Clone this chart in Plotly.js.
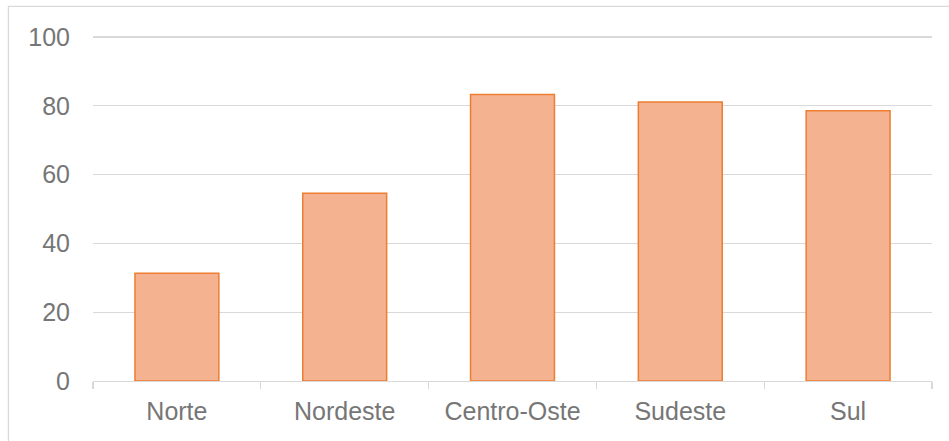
<!DOCTYPE html>
<html>
<head>
<meta charset="utf-8">
<script src="https://cdn.plot.ly/plotly-3.0.1.min.js"></script>
<style>
  html, body { margin: 0; padding: 0; background: #ffffff; }
  #chart { width: 949px; height: 441px; }
</style>
</head>
<body>
<div id="chart"></div>
<script>
const categories = ["Norte", "Nordeste", "Centro-Oste", "Sudeste", "Sul"];
const values = [31.3, 54.6, 83.3, 81.1, 78.6];
const yTickValues = [0, 20, 40, 60, 80, 100];

const fontFamily = '"Liberation Sans", Arial, sans-serif';
const textColor = '#767676';
const gridColor = '#D9D9D9';

const trace = {
  type: 'bar',
  x: categories,
  y: values,
  marker: {
    color: '#F5B291',
    line: { color: '#ED7D31', width: 1.5 }
  },
  hoverinfo: 'x+y'
};

const layout = {
  width: 949,
  height: 441,
  margin: { l: 93, r: 17, t: 36, b: 60 },
  paper_bgcolor: '#ffffff',
  plot_bgcolor: '#ffffff',
  showlegend: false,
  bargap: 0.5,
  font: { family: fontFamily, size: 25, color: textColor },
  xaxis: {
    type: 'category',
    showline: true,
    linecolor: gridColor,
    linewidth: 1.3,
    ticks: 'outside',
    tickson: 'boundaries',
    ticklen: 7,
    tickcolor: gridColor,
    tickwidth: 1.3,
    showgrid: false,
    ticklabelstandoff: 8,
    tickfont: { family: fontFamily, size: 25, color: textColor }
  },
  yaxis: {
    range: [0, 100.3],
    tickvals: yTickValues,
    ticktext: yTickValues.map(String),
    showgrid: true,
    gridcolor: gridColor,
    gridwidth: 1.3,
    zeroline: false,
    showline: false,
    ticks: '',
    ticklabelstandoff: 22,
    tickfont: { family: fontFamily, size: 25, color: textColor }
  },
  shapes: [{
    type: 'rect',
    xref: 'paper', yref: 'paper',
    x0: -0.1008, x1: 1.2,
    y0: -0.4, y1: 1.0858,
    line: { color: gridColor, width: 1.3 },
    fillcolor: 'rgba(0,0,0,0)',
    layer: 'below'
  }]
};

Plotly.newPlot('chart', [trace], layout, { displayModeBar: false, staticPlot: true });
</script>
</body>
</html>
